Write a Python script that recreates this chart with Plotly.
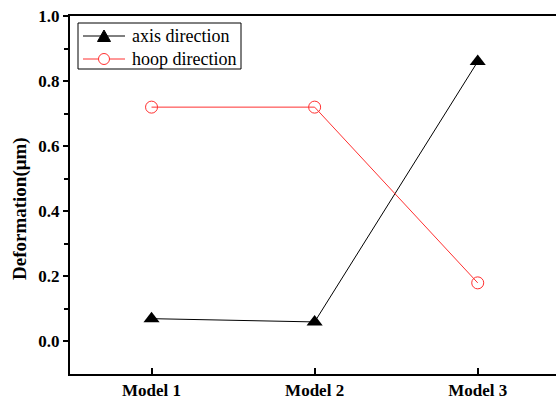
import plotly.graph_objects as go

models = ["Model 1", "Model 2", "Model 3"]
model_pos = [1, 2, 3]
axis_direction = [0.07, 0.06, 0.86]
hoop_direction = [0.72, 0.72, 0.18]
series_names = ["axis direction", "hoop direction"]

serif = "Liberation Serif, Times New Roman, serif"
BLACK = "black"
RED = "#ff3030"

W, H = 556, 399
ML, MR, MT, MB = 70, 0, 16, 25
PW, PH = W - ML - MR, H - MT - MB


def px(x):
    """Pixel column -> paper fraction."""
    return (x - ML) / PW


def py(y):
    """Pixel row (from top) -> paper fraction."""
    return (H - MB - y) / PH


fig = go.Figure()
fig.add_trace(go.Scatter(
    x=model_pos, y=axis_direction, name=series_names[0],
    mode="lines+markers", showlegend=False,
    line=dict(color=BLACK, width=1),
    marker=dict(symbol="triangle-up", size=14, color=BLACK),
))
fig.add_trace(go.Scatter(
    x=model_pos, y=hoop_direction, name=series_names[1],
    mode="lines+markers", showlegend=False,
    line=dict(color=RED, width=1),
    marker=dict(symbol="circle-open", size=12, color=RED, line=dict(width=1)),
))

# Legend box drawn by hand for a compact Origin-style key
shapes = [
    dict(type="rect", xref="paper", yref="paper",
         x0=px(78), x1=px(241), y0=py(69), y1=py(23),
         line=dict(color=BLACK, width=1), fillcolor="white"),
]
rows = [36, 59]
colors = [BLACK, RED]
for row, col in zip(rows, colors):
    shapes.append(dict(type="line", xref="paper", yref="paper",
                       x0=px(83), x1=px(125), y0=py(row), y1=py(row),
                       line=dict(color=col, width=1)))
# triangle symbol
shapes.append(dict(type="path", xref="paper", yref="paper",
                   path=f"M {px(97.5)} {py(41.5)} L {px(110.5)} {py(41.5)} L {px(104)} {py(30)} Z",
                   line=dict(color=BLACK, width=1), fillcolor=BLACK))
# circle symbol
shapes.append(dict(type="circle", xref="paper", yref="paper",
                   x0=px(98.5), x1=px(109.5), y0=py(64.5), y1=py(53.5),
                   line=dict(color=RED, width=1), fillcolor="white"))

annotations = [
    dict(text=name, xref="paper", yref="paper", x=px(130), y=py(row),
         xanchor="left", yanchor="middle", showarrow=False,
         font=dict(family=serif, size=18, color=BLACK))
    for name, row in zip(series_names, rows)
]
annotations.append(dict(
    text="Deformation(μm)", xref="paper", yref="paper",
    x=px(20), y=py(209), xanchor="center", yanchor="middle",
    textangle=-90, showarrow=False,
    font=dict(family=serif, size=19, color=BLACK, weight="bold"),
))

fig.update_layout(
    width=W, height=H,
    margin=dict(l=ML, r=MR, t=MT, b=MB),
    paper_bgcolor="white", plot_bgcolor="white",
    font=dict(family=serif, color=BLACK),
    showlegend=False,
    shapes=shapes,
    annotations=annotations,
    xaxis=dict(
        range=[0.5, 3.48], tickvals=model_pos, ticktext=models,
        showgrid=False, zeroline=False,
        showline=True, linecolor=BLACK, linewidth=2, mirror=True,
        ticks="inside", ticklen=6, tickwidth=1.5, tickcolor=BLACK,
        tickfont=dict(family=serif, size=17, color=BLACK, weight="bold"),
    ),
    yaxis=dict(
        range=[-0.1, 1.0], tickvals=[0.0, 0.2, 0.4, 0.6, 0.8, 1.0],
        ticktext=["0.0", "0.2", "0.4", "0.6", "0.8", "1.0"],
        showgrid=False, zeroline=False,
        showline=True, linecolor=BLACK, linewidth=2, mirror=False,
        ticks="outside", ticklen=5, tickwidth=1.5, tickcolor=BLACK,
        minor=dict(tickvals=[0.1, 0.3, 0.5, 0.7, 0.9], ticks="outside",
                   ticklen=4, tickwidth=1.5, tickcolor=BLACK),
        tickfont=dict(family=serif, size=17, color=BLACK, weight="bold"),
    ),
)

fig.write_html("out.html")
